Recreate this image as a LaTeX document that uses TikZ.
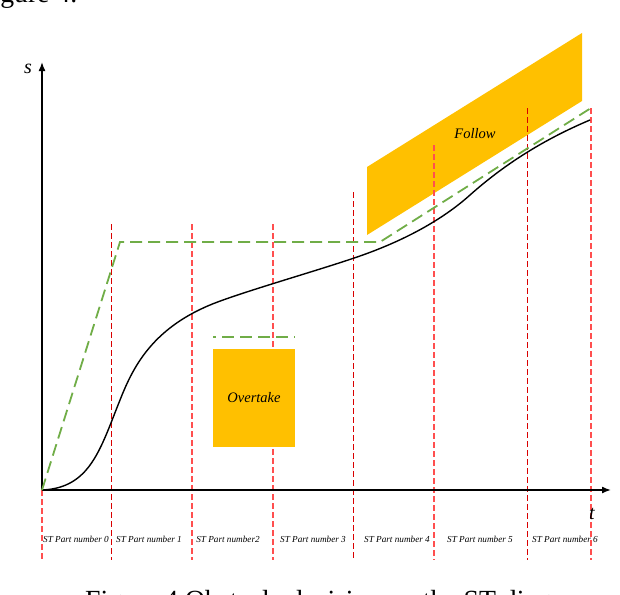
\documentclass[tikz,border=0pt]{standalone}
\usepackage{fontspec}
\setmainfont{Liberation Serif}
\usetikzlibrary{arrows.meta}
\definecolor{gold}{HTML}{FFC000}
\definecolor{dgreen}{HTML}{70AD47}
\definecolor{pinkred}{HTML}{FF4F4F}
\begin{document}
\begin{tikzpicture}[x=1pt,y=-1pt,
  axis/.style={line width=1.5pt,-{Latex[length=9pt,width=7pt]}},
  sepdark/.style={red!85!black, line width=0.8pt, dash pattern=on 6pt off 3pt},
  seplight/.style={pinkred, line width=1.2pt, dash pattern=on 6pt off 3pt},
  plan/.style={dgreen, line width=1.8pt, dash pattern=on 12pt off 6pt},
  zone/.style={fill=gold, draw=none},
  lab/.style={font=\fontsize{9.2}{10}\selectfont\itshape, inner sep=0pt},
  big/.style={font=\fontsize{14.5}{16}\selectfont\itshape, inner sep=0pt},
  axlab/.style={font=\fontsize{20}{22}\selectfont\itshape, inner sep=0pt},
  captext/.style={font=\fontsize{27.7}{30}\selectfont, inner sep=0pt, anchor=base west},
  traj/.style={line width=1.4pt, black},
]
\useasboundingbox (0,0) rectangle (620,594);

% cut caption texts
\node[captext] (toptext) at (-23,3) {Figure 4.};
\node[captext] (caption) at (85,609) {Figure 4 Obstacle decision on the ST diagram};

% Follow zone
\fill[gold] (367,167) -- (582,33) -- (582,101) -- (367,235) -- cycle;
\node[big] (follow) at (475,134) {Follow};

% separators
\draw[seplight] (42,490) -- (42,560);
\draw[sepdark]  (111,224) -- (111,560);
\draw[seplight] (192,224) -- (192,560);
\draw[seplight] (273,224) -- (273,560);
\draw[sepdark]  (353,192) -- (353,560);
\draw[seplight] (434,145) -- (434,560);
\draw[sepdark]  (527,108) -- (527,560);
\draw[seplight] (591,108) -- (591,560);

% Overtake zone
\node[zone, minimum width=82pt, minimum height=98pt, inner sep=0pt] (overtake) at (254,398) {};
\node[big] (overtaketext) at (254,398) {Overtake};
\coordinate (ovL) at (213,337);
\coordinate (ovR) at (295,337);
\draw[plan, dash phase=9pt] (ovL) -- (ovR);

% axes
\coordinate (O) at (42,490);
\coordinate (ytip) at (42,62);
\coordinate (xtip) at (611,490);
\draw[axis] (O) -- (ytip);
\draw[axis] (O) -- (xtip);
\node[axlab] (slab) at (28,69) {s};
\node[axlab] (tlab) at (592,514) {t};

% trajectory
\coordinate (c1) at (120,400);
\coordinate (c2) at (210,305);
\coordinate (c3) at (360,256);
\coordinate (c4) at (470,195);
\coordinate (c5) at (590,120);
\draw[traj] (O) .. controls (90,488) and (100,450) .. (c1)
  .. controls (132,370) and (150,330) .. (c2)
  .. controls (240,292.5) and (320,270) .. (c3)
  .. controls (400,242) and (440,222) .. (c4)
  .. controls (506,163) and (545,139) .. (c5);

% planned path
\coordinate (g1) at (120,242);
\coordinate (g2) at (380,242);
\coordinate (g3) at (591,108);
\draw[plan] (O) -- (g1) -- (g2) -- (g3);

% part labels
\node[lab] (p0) at (76,539) {ST Part number 0};
\node[lab] (p1) at (149,539) {ST Part number 1};
\node[lab] (p2) at (228,539) {ST Part number2};
\node[lab] (p3) at (313,539) {ST Part number 3};
\node[lab] (p4) at (397,539) {ST Part number 4};
\node[lab] (p5) at (480,539) {ST Part number 5};
\node[lab] (p6) at (565,539) {ST Part number 6};
\end{tikzpicture}
\end{document}
